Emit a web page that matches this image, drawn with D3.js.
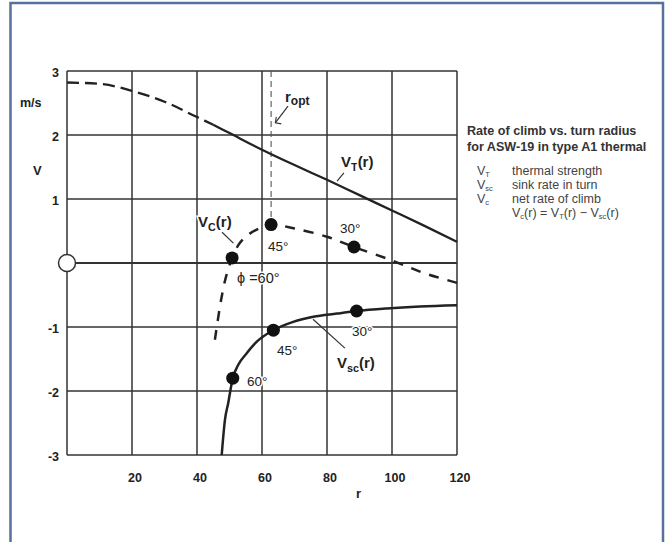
<!DOCTYPE html>
<html><head><meta charset="utf-8">
<script src="https://cdn.jsdelivr.net/npm/d3@7"></script>
<style>
html,body{margin:0;padding:0;background:#fff;}
svg{display:block;font-family:"Liberation Sans",Arial,sans-serif;}
</style></head>
<body><svg id="c" width="670" height="542"></svg>
<script>
// ---- data ----
const xTicks = [20, 40, 60, 80, 100, 120];
const yTicks = [3, 2, 1, -1, -2, -3];
const gridX = [0, 20, 40, 60, 80, 100, 120];
const gridY = [-3, -2, -1, 0, 1, 2, 3];

const vtR = [0, 10, 20, 30, 40, 45, 50, 60, 70, 80, 90, 100, 110, 120];
const vtV = [2.82, 2.80, 2.69, 2.52, 2.28, 2.16, 2.03, 1.77, 1.53, 1.30, 1.06, 0.82, 0.58, 0.33];
const vtDashedUntil = 45;

const vcR = [45.5, 47, 48, 49, 50.8, 53, 56, 60, 62.8, 70, 80, 88.3, 100, 110, 120];
const vcV = [-1.2, -0.7, -0.42, -0.2, 0.08, 0.3, 0.45, 0.56, 0.6, 0.54, 0.41, 0.25, 0.04, -0.16, -0.31];

const vscR = [47.6, 48.6, 49.6, 51.0, 52.7, 55.3, 58.4, 63.5, 69.6, 75.8, 83.0, 89.1, 98.4, 108.6, 120];
const vscV = [-3.0, -2.45, -2.19, -1.80, -1.59, -1.41, -1.23, -1.05, -0.92, -0.84, -0.79, -0.75, -0.71, -0.68, -0.66];

const bankAngles = ["60°", "45°", "30°"];
const vcPtR = [50.8, 62.8, 88.3];
const vcPtV = [0.08, 0.6, 0.25];
const vscPtR = [51, 63.5, 89.1];
const vscPtV = [-1.8, -1.05, -0.75];
const rOpt = 62.8;

// ---- drawing ----
const svg = d3.select("#c");
const x = d3.scaleLinear().domain([0, 120]).range([67, 457]);
const y = d3.scaleLinear().domain([-3, 3]).range([455, 71]);
const ink = "#222";

// frame
svg.append("rect").attr("x", 10.5).attr("y", 3).attr("width", 652.5).attr("height", 560)
  .attr("fill", "#fff").attr("stroke", "#56719b").attr("stroke-width", 2.5);

const g = svg.append("g");

// grid
g.selectAll("line.gx").data(gridX).join("line").attr("class", "gx")
  .attr("x1", d => x(d)).attr("x2", d => x(d)).attr("y1", y(-3)).attr("y2", y(3))
  .attr("stroke", "#333").attr("stroke-width", 1.5);
g.selectAll("line.gy").data(gridY).join("line").attr("class", "gy")
  .attr("x1", x(0)).attr("x2", x(120)).attr("y1", d => y(d)).attr("y2", d => y(d))
  .attr("stroke", "#333").attr("stroke-width", d => d === 0 ? 2.2 : 1.5);

// r_opt line
g.append("line").attr("x1", x(rOpt)).attr("x2", x(rOpt)).attr("y1", y(3)).attr("y2", y(vcPtV[1]))
  .attr("stroke", "#555").attr("stroke-width", 1.1).attr("stroke-dasharray", "6,4");

// tick labels
svg.selectAll("text.yt").data(yTicks).join("text").attr("class", "yt")
  .attr("x", 59).attr("y", d => y(d) + 6).attr("text-anchor", "end")
  .attr("font-size", 12.5).attr("font-weight", "bold").attr("fill", ink).text(d => d);
svg.selectAll("text.xt").data(xTicks).join("text").attr("class", "xt")
  .attr("x", d => x(d) + 3).attr("y", 482).attr("text-anchor", "middle")
  .attr("font-size", 12.5).attr("font-weight", "bold").attr("fill", ink).text(d => d);
svg.append("text").attr("x", 20).attr("y", 107).attr("font-size", 12.5).attr("font-weight", "bold").attr("fill", ink).text("m/s");
svg.append("text").attr("x", 33).attr("y", 175).attr("font-size", 13).attr("font-weight", "bold").attr("fill", ink).text("V");
svg.append("text").attr("x", 356).attr("y", 498).attr("font-size", 13).attr("font-weight", "bold").attr("fill", ink).text("r");

// curves
const line = d3.line().x(d => x(d[0])).y(d => y(d[1])).curve(d3.curveMonotoneX);
const vt = vtR.map((r, i) => [r, vtV[i]]);
g.append("path").attr("d", line(vt.filter(d => d[0] <= vtDashedUntil)))
  .attr("fill", "none").attr("stroke", ink).attr("stroke-width", 2.3).attr("stroke-dasharray", "12,6");
g.append("path").attr("d", line(vt.filter(d => d[0] >= vtDashedUntil)))
  .attr("fill", "none").attr("stroke", ink).attr("stroke-width", 2.3);

const lineC = d3.line().x(d => x(d[0])).y(d => y(d[1])).curve(d3.curveCatmullRom.alpha(0.5));
g.append("path").attr("d", lineC(vcR.map((r, i) => [r, vcV[i]])))
  .attr("fill", "none").attr("stroke", ink).attr("stroke-width", 2.5).attr("stroke-dasharray", "10,9");
g.append("path").attr("d", line(vscR.map((r, i) => [r, vscV[i]])))
  .attr("fill", "none").attr("stroke", ink).attr("stroke-width", 2.5);

// origin open circle
g.append("circle").attr("cx", x(0)).attr("cy", y(0)).attr("r", 8.5)
  .attr("fill", "#fff").attr("stroke", "#333").attr("stroke-width", 1.5);

// points
g.selectAll("circle.vc").data(vcPtR).join("circle").attr("class", "vc")
  .attr("cx", d => x(d)).attr("cy", (d, i) => y(vcPtV[i])).attr("r", 6.5).attr("fill", "#111");
g.selectAll("circle.vsc").data(vscPtR).join("circle").attr("class", "vsc")
  .attr("cx", d => x(d)).attr("cy", (d, i) => y(vscPtV[i])).attr("r", 6.5).attr("fill", "#111");

// leader lines (data coords)
function leader(r1, v1, r2, v2) {
  g.append("line").attr("x1", x(r1)).attr("y1", y(v1)).attr("x2", x(r2)).attr("y2", y(v2))
    .attr("stroke", "#333").attr("stroke-width", 1.2);
}
leader(68, 2.45, 64.1, 2.19);   // r_opt
leader(85.2, 1.41, 83.1, 1.28); // VT
leader(47.7, 0.48, 51.2, 0.31); // Vc
leader(75.7, -0.88, 85.5, -1.33); // Vsc
g.append("path").attr("d", `M${x(64.1)+1},${y(2.19)-6} L${x(64.1)},${y(2.19)} L${x(64.1)+6},${y(2.19)+1}`)
  .attr("fill", "none").attr("stroke", "#333").attr("stroke-width", 1.1);

// labels with white halo
function lab(tx, ty, size, weight) {
  return g.append("text").attr("x", tx).attr("y", ty).attr("font-size", size).attr("font-weight", weight)
    .attr("fill", ink).attr("stroke", "#fff").attr("stroke-width", 3).attr("paint-order", "stroke");
}
function subLabel(tx, ty, main, sub, tail, size) {
  const t = lab(tx, ty, size, "bold");
  t.append("tspan").text(main);
  t.append("tspan").attr("font-size", size * 0.72).attr("dy", 4).text(sub);
  t.append("tspan").attr("dy", -4).text(tail);
}
subLabel(341, 167, "V", "T", "(r)", 15);
subLabel(198, 227, "V", "C", "(r)", 15);
subLabel(337, 368, "V", "sc", "(r)", 15);
{
  const t = lab(285, 102, 15, "bold");
  t.append("tspan").text("r");
  t.append("tspan").attr("font-size", 12).attr("dy", 3).text("opt");
}
lab(268, 251, 13.5, "normal").text(bankAngles[1]);
lab(340, 233, 13.5, "normal").text(bankAngles[2]);
lab(237, 283, 14.5, "normal").text("ϕ =60°");
lab(277, 355, 13.5, "normal").text(bankAngles[1]);
lab(247, 386, 13.5, "normal").text(bankAngles[0]);
lab(352, 336, 13.5, "normal").text(bankAngles[2]);

// legend
const lg = svg.append("g").attr("fill", "#333");
lg.append("text").attr("x", 467).attr("y", 135).attr("font-size", 12.6).attr("font-weight", "bold").text("Rate of climb vs. turn radius");
lg.append("text").attr("x", 467).attr("y", 151).attr("font-size", 12.6).attr("font-weight", "bold").text("for ASW-19 in type A1 thermal");
const legRows = [["T", "thermal strength"], ["sc", "sink rate in turn"], ["c", "net rate of climb"]];
legRows.forEach((row, i) => {
  const yy = 175 + i * 14;
  const t = lg.append("text").attr("x", 477).attr("y", yy).attr("font-size", 12.5).attr("fill", "#444");
  t.append("tspan").text("V");
  t.append("tspan").attr("font-size", 7.5).attr("dy", 2).text(row[0]);
  lg.append("text").attr("x", 512).attr("y", yy).attr("font-size", 12.5).attr("fill", "#444").text(row[1]);
});
{
  const t = lg.append("text").attr("x", 512).attr("y", 217).attr("font-size", 12.5).attr("fill", "#444");
  t.append("tspan").text("V");
  t.append("tspan").attr("font-size", 7.5).attr("dy", 2).text("c");
  t.append("tspan").attr("dy", -2).text("(r) = V");
  t.append("tspan").attr("font-size", 7.5).attr("dy", 2).text("T");
  t.append("tspan").attr("dy", -2).text("(r) − V");
  t.append("tspan").attr("font-size", 7.5).attr("dy", 2).text("sc");
  t.append("tspan").attr("dy", -2).text("(r)");
}
</script></body></html>
